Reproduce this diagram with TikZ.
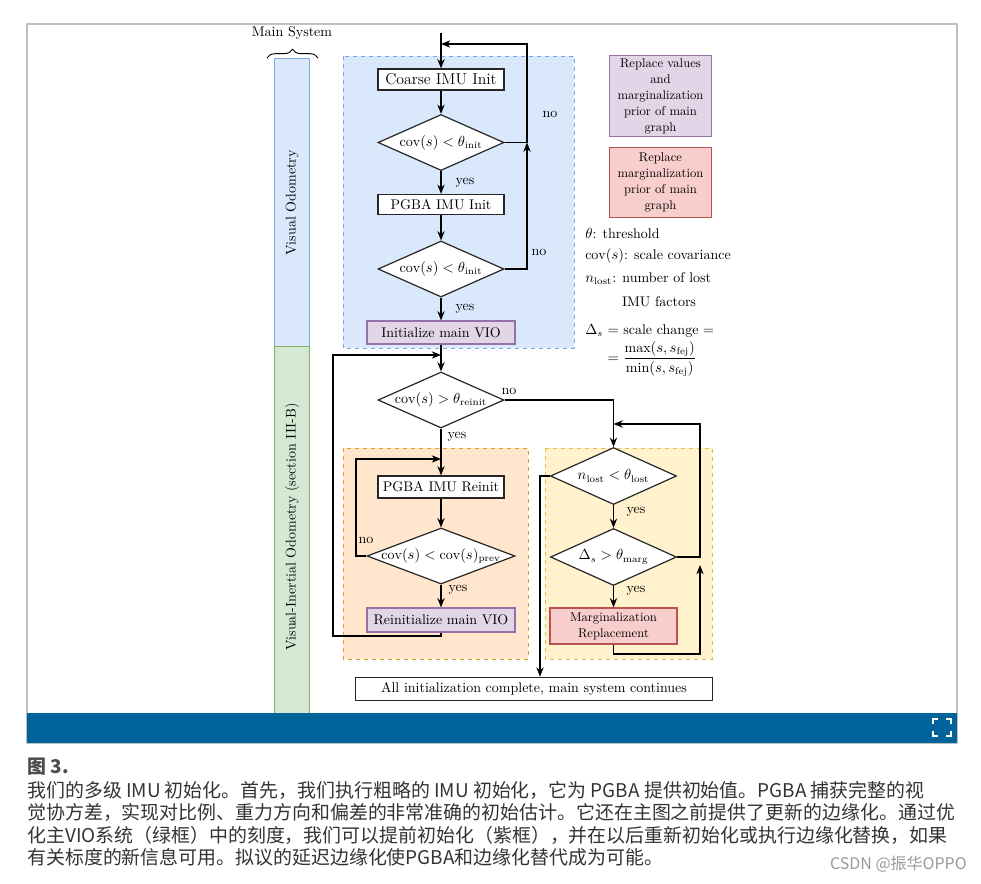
\documentclass[tikz,border=0pt]{standalone}
\usepackage{amsmath}
\usepackage{amssymb}
\usepackage{fontspec}
\newfontfamily\cjk{Noto Sans CJK SC}
\usepackage{tikz}
\usetikzlibrary{shapes,positioning,calc}
\usetikzlibrary{shapes.geometric, arrows}
\usetikzlibrary{arrows.meta}
\usetikzlibrary{decorations.pathreplacing}
\definecolor{vofill}{HTML}{DAE8FC}
\definecolor{voline}{HTML}{7EA6E0}
\definecolor{viofill}{HTML}{D5E8D4}
\definecolor{violine}{HTML}{82B366}
\definecolor{orfill}{HTML}{FFE6CC}
\definecolor{orline}{HTML}{E0A030}
\definecolor{yefill}{HTML}{FFF2CC}
\definecolor{yeline}{HTML}{E0BE50}
\definecolor{pufill}{HTML}{E1D5E7}
\definecolor{puline}{HTML}{9673A6}
\definecolor{refill}{HTML}{F8CECC}
\definecolor{reline}{HTML}{B85450}
\definecolor{barblue}{HTML}{006399}
\definecolor{captext}{HTML}{333333}
\tikzstyle{proc} = [rectangle, draw=black!85, fill=white, line width=0.9pt, minimum width=94.5pt, minimum height=15.75pt, inner sep=1pt, text centered]
\tikzstyle{cond} = [diamond, draw=black!85, fill=white, line width=0.9pt, aspect=2.25, inner sep=0pt, minimum width=94.5pt, minimum height=42pt]
\tikzstyle{zone} = [rectangle, dashed, line width=0.7pt]
\tikzstyle{legend} = [rectangle, line width=0.7pt, minimum width=77pt, align=center, inner sep=1pt, font=\fontsize{9.5}{12}\selectfont]
\tikzstyle{arrow} = [line width=0.9pt,->,>={Stealth[length=7pt,width=5.5pt]}]
\tikzstyle{capline} = [anchor=west, inner sep=0pt, text=captext, font=\cjk\fontsize{14.2}{17}\selectfont]

\begin{document}
\begin{tikzpicture}[x=0.75pt,y=-0.75pt,font=\fontsize{10.5}{12.6}\selectfont]
\useasboundingbox (0,0) rectangle (981,883);
\draw[black!25, line width=0.8pt] (27,24) rectangle (957,743);

\fill[vofill, draw=voline, line width=0.7pt] (274,58) rectangle (309,346);
\fill[viofill, draw=violine, line width=0.7pt] (274,346) rectangle (309,713);
\node (vo) at (292,203) [rotate=90] {Visual Odometry};
\node (vio) at (292,527) [rotate=90] {Visual-Inertial Odometry (section III-B)};
\node (mainsys) at (292,33) {Main System};
\draw[line width=0.7pt, decorate, decoration={brace, amplitude=6.5pt}] (267,58) -- (318,58);

\draw[zone, fill=vofill, draw=voline] (343,56) rectangle (574,348);
\draw[zone, fill=orfill, draw=orline] (343,448) rectangle (528,659);
\draw[zone, fill=yefill, draw=yeline] (545,448) rectangle (712,659);

\node (coarse) at (441,79.5) [proc, font=\fontsize{11.8}{14}\selectfont] {Coarse IMU Init};
\node (d1) at (441,142.5) [cond] {$\mathrm{cov}(s) < \theta_{\text{init}}$};
\node (pinit) at (441,204.5) [proc, minimum height=15pt] {PGBA IMU Init};
\node (d2) at (441,269) [cond] {$\mathrm{cov}(s) < \theta_{\text{init}}$};
\node (initvio) at (441,332.5) [proc, fill=pufill, draw=puline, minimum width=111pt, minimum height=17.25pt] {Initialize main VIO};
\node (d3) at (441,400) [cond] {$\mathrm{cov}(s) > \theta_{\text{reinit}}$};
\node (preinit) at (441,487) [proc, minimum height=16.5pt] {PGBA IMU Reinit};
\node (d5) at (441,556) [cond, aspect=2.64, minimum width=111pt, inner xsep=-7pt] {$\mathrm{cov}(s) < \mathrm{cov}(s)_{\text{prev}}$};
\node (reinitvio) at (441,620) [proc, fill=pufill, draw=puline, minimum width=111pt, minimum height=18pt] {Reinitialize main VIO};
\node (d4) at (613.5,476) [cond, minimum height=42.75pt] {$n_{\text{lost}} < \theta_{\text{lost}}$};
\node (d6) at (613.5,557) [cond, minimum height=42.75pt] {$\Delta_s > \theta_{\text{marg}}$};
\node (marg) at (613.5,626) [proc, fill=refill, draw=reline, minimum width=95.25pt, minimum height=27pt, align=center, font=\fontsize{9.5}{12}\selectfont] {Marginalization\\Replacement};
\node (done) at (534,689) [proc, minimum width=267.75pt, minimum height=17.6pt] {All initialization complete, main system continues};

\node (yes1) at (465,183) {yes};
\node (yes2) at (465,309) {yes};
\node (yes3) at (457,436.5) {yes};
\node (yes5) at (458,590) {yes};
\node (yes4) at (636,511.5) {yes};
\node (yes6) at (636,590.5) {yes};
\node (no1) at (550,114) {no};
\node (no2) at (539,252) {no};
\node (no3) at (509,391) {no};
\node (no5) at (366,540) {no};

\coordinate (start) at (441,33);
\coordinate (j1) at (527,142.5);
\coordinate (top) at (527,44);
\coordinate (entry) at (441,44);
\draw [arrow] (start) -- (coarse);
\draw [arrow] (coarse) -- (d1);
\draw [arrow] (d1) -- (pinit);
\draw [arrow] (pinit) -- (d2);
\draw [arrow] (d2) -- (initvio);
\draw [arrow] (initvio) -- (d3);
\draw [arrow] (d2.east) -| (j1);
\draw [arrow] (d1.east) -- (j1) -- (top) -- (entry);

\coordinate (r1) at (441,636);
\coordinate (r2) at (333,355);
\coordinate (j2) at (441,355);
\draw [arrow] (reinitvio.south) -- (r1) -| (r2) -- (j2);

\coordinate (l5) at (356,556);
\coordinate (j3) at (441,459);
\draw [arrow] (d3) -- (preinit);
\draw [arrow] (preinit) -- (d5);
\draw [arrow] (d5) -- (reinitvio);
\draw [arrow] (d5.west) -- (l5) |- (j3);

\coordinate (k4) at (540,476);
\coordinate (k6) at (700,424);
\coordinate (j4) at (613.5,424);
\coordinate (m1) at (613.5,654);
\coordinate (j5) at (700,565);
\draw [arrow] (d3.east) -| (d4.north);
\draw [arrow] (d4) -- (d6);
\draw [arrow] (d6) -- (marg);
\draw [arrow] (d4.west) -- (k4) -- (k4 |- done.north);
\draw [arrow] (d6.east) -| (k6) -- (j4);
\draw [arrow] (marg.south) -- (m1) -| (j5);

\node (leg1) at (660.5,96) [legend, fill=pufill, draw=puline, minimum height=60.75pt] {Replace values\\and\\marginalization\\prior of main\\graph};
\node (leg2) at (660.5,182.5) [legend, fill=refill, draw=reline, minimum height=52.5pt] {Replace\\marginalization\\prior of main\\graph};
\node (thr) at (585,233) [anchor=west, inner sep=0pt] {$\theta$: threshold};
\node (cov) at (585,256) [anchor=west, inner sep=0pt] {$\mathrm{cov}(s)$: scale covariance};
\node (nlost) at (585,279) [anchor=west, inner sep=0pt] {$n_{\text{lost}}$: number of lost};
\node (imuf) at (659,302) {IMU factors};
\node (delta) at (585,331) [anchor=west, inner sep=0pt] {$\Delta_s$ = scale change =};
\node (frac) at (652,359) {$=\dfrac{\max(s, s_{\text{fej}})}{\min(s, s_{\text{fej}})}$};

\fill[barblue] (27,713) rectangle (957,743);
\draw[white, line width=1.6pt] (933,724) -- (933,719) -- (938,719);
\draw[white, line width=1.6pt] (946,719) -- (951,719) -- (951,724);
\draw[white, line width=1.6pt] (933,731) -- (933,736) -- (938,736);
\draw[white, line width=1.6pt] (946,736) -- (951,736) -- (951,731);

\node (fig) at (27,767) [capline, text=black!70] {\bfseries 图 3.};
\node (cap1) at (27,790) [capline] {我们的多级 IMU 初始化。首先，我们执行粗略的 IMU 初始化，它为 PGBA 提供初始值。PGBA 捕获完整的视};
\node (cap2) at (27,812.5) [capline] {觉协方差，实现对比例、重力方向和偏差的非常准确的初始估计。它还在主图之前提供了更新的边缘化。通过优};
\node (cap3) at (27,835) [capline] {化主VIO系统（绿框）中的刻度，我们可以提前初始化（紫框），并在以后重新初始化或执行边缘化替换，如果};
\node (cap4) at (27,857.5) [capline] {有关标度的新信息可用。拟议的延迟边缘化使PGBA和边缘化替代成为可能。};
\node (csdn) at (967,864) [anchor=east, inner sep=0pt, text=black!40, font=\cjk\fontsize{12}{14}\selectfont] {CSDN @振华OPPO};
\end{tikzpicture}
\end{document}
